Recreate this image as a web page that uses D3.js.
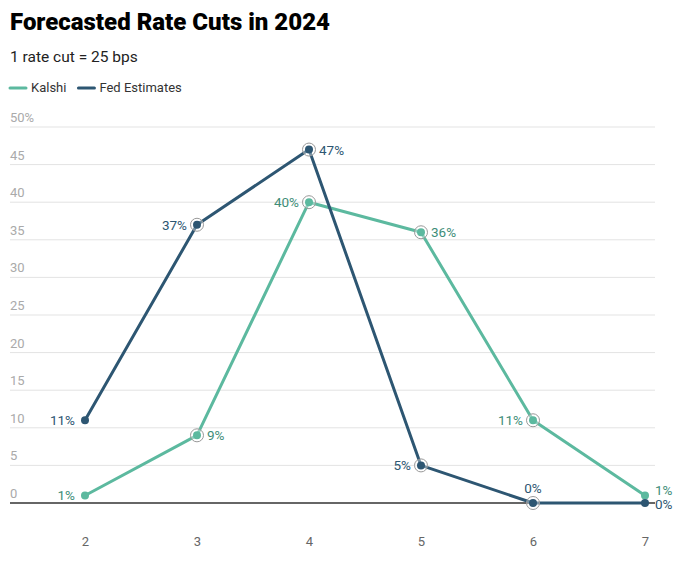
<!DOCTYPE html>
<html><head><meta charset="utf-8">
<script src="https://cdn.jsdelivr.net/npm/d3@7"></script>
<style>
body{margin:0;background:#fff;font-family:Roboto,"Noto Sans",sans-serif;}
</style></head>
<body><svg id="c" width="680" height="561"></svg>
<script>
const categories = [2, 3, 4, 5, 6, 7];
const kalshi = [1, 9, 40, 36, 11, 1];
const fed = [11, 37, 47, 5, 0, 0];
const yTicks = [0, 5, 10, 15, 20, 25, 30, 35, 40, 45, 50];
// label placement per point: l=left, r=right, t=top
const kalshiPos = ["l","r","l","r","l","r"];
const fedPos = ["l","l","r","l","t","r"];
const ringed = [false, true, true, true, true, false];

const svg = d3.select("#c");
const KCOL = "#5cb99f", FCOL = "#2d5672";
const KLAB = "#3e8d78", FLAB = "#2d5672";

svg.append("text").attr("x",10).attr("y",30).text("Forecasted Rate Cuts in 2024")
  .attr("font-size",24).attr("font-weight",900).attr("fill","#000");
svg.append("text").attr("x",10).attr("y",62).text("1 rate cut = 25 bps")
  .attr("font-size",15.5).attr("fill","#222");

const leg = [["Kalshi",KCOL],["Fed Estimates",FCOL]];
let lx = 10;
leg.forEach(([n,c])=>{
  svg.append("line").attr("x1",lx).attr("x2",lx+16).attr("y1",88).attr("y2",88)
    .attr("stroke",c).attr("stroke-width",3).attr("stroke-linecap","round");
  const t = svg.append("text").attr("x",lx+21).attr("y",92).text(n)
    .attr("font-size",13).attr("fill","#333");
  lx += 21 + t.node().getComputedTextLength() + 12;
});

const x = d3.scaleLinear().domain([2,7]).range([85,645]);
const y = d3.scaleLinear().domain([0,50]).range([503,127]);

const grid = svg.append("g");
yTicks.forEach(v=>{
  if(v>0) grid.append("line").attr("x1",10).attr("x2",655).attr("y1",y(v)).attr("y2",y(v))
    .attr("stroke","#e3e3e3").attr("stroke-width",1);
  grid.append("text").attr("x",10).attr("y",y(v)-5).text(v===50?"50%":v)
    .attr("font-size",13).attr("fill","#aaa");
});
svg.append("line").attr("x1",10).attr("x2",655).attr("y1",y(0)).attr("y2",y(0))
  .attr("stroke","#333").attr("stroke-width",1.3);

const xa = svg.append("g").attr("transform","translate(0,"+(y(0)+40)+")")
  .call(d3.axisBottom(x).tickValues(categories).tickSize(0).tickFormat(d3.format("d")));
xa.select(".domain").remove();
xa.selectAll("text").attr("font-size",13).attr("fill","#666").attr("font-family","Roboto,sans-serif").attr("dy","0");

const line = d3.line().x((d,i)=>x(categories[i])).y(d=>y(d));
function series(vals,col){
  svg.append("path").datum(vals).attr("d",line).attr("fill","none")
    .attr("stroke",col).attr("stroke-width",3).attr("stroke-linejoin","round");
}
function marks(vals,col,labCol,pos){
  vals.forEach((v,i)=>{
    const cx=x(categories[i]), cy=y(v);
    if(ringed[i]) svg.append("circle").attr("cx",cx).attr("cy",cy).attr("r",6.5)
      .attr("fill","rgba(255,255,255,0.35)").attr("stroke","#999").attr("stroke-width",1);
    svg.append("circle").attr("cx",cx).attr("cy",cy).attr("r",4).attr("fill",col);
    const p=pos[i];
    const t=svg.append("text").text(v+"%").attr("font-size",13.5).attr("fill",labCol)
      .attr("dominant-baseline","central");
    if(p==="l") t.attr("x",cx-10).attr("y",cy).attr("text-anchor","end");
    else if(p==="r") t.attr("x",cx+10).attr("y",cy+(i===5?(v>0?-5:1):0)).attr("text-anchor","start");
    else t.attr("x",cx).attr("y",cy-15).attr("text-anchor","middle");
  });
}
series(kalshi,KCOL);
series(fed,FCOL);
marks(kalshi,KCOL,KLAB,kalshiPos);
marks(fed,FCOL,FLAB,fedPos);
</script></body></html>
